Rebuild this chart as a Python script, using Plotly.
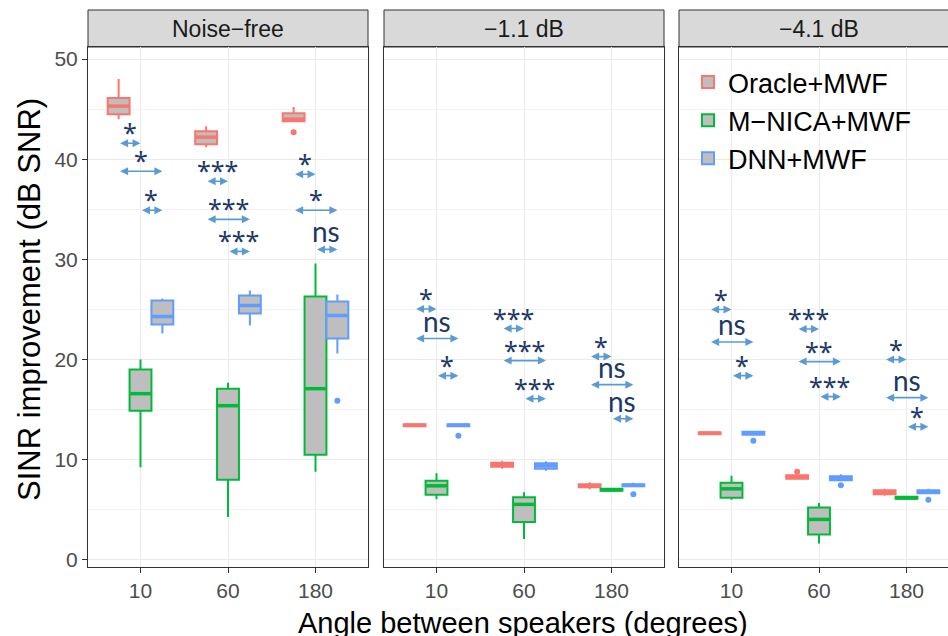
import plotly.graph_objects as go

# ---------------- data ----------------
conditions = ["Noise\u2212free", "\u22121.1 dB", "\u22124.1 dB"]
angles = ["10", "60", "180"]
methods = ["Oracle+MWF", "M\u2212NICA+MWF", "DNN+MWF"]
colors = ["#F8766D", "#00BA38", "#619CFF"]

# box statistics: [condition][angle]
oracle_lo  = [[44.0, 41.2, 43.8], [13.3, 9.1, 7.05], [12.5, 8.05, 6.4]]
oracle_q1  = [[44.5, 41.5, 43.8], [13.35, 9.3, 7.25], [12.55, 8.1, 6.55]]
oracle_med = [[45.3, 42.2, 44.0], [13.45, 9.5, 7.4], [12.65, 8.3, 6.75]]
oracle_q3  = [[46.1, 42.8, 44.6], [13.55, 9.7, 7.55], [12.75, 8.45, 6.95]]
oracle_hi  = [[48.0, 43.3, 45.2], [13.6, 9.9, 7.75], [12.8, 8.55, 7.1]]

mnica_lo  = [[9.25, 4.3, 8.8], [6.05, 2.1, 6.85], [6.0, 1.65, 6.05]]
mnica_q1  = [[14.9, 8.0, 10.5], [6.5, 3.8, 6.9], [6.2, 2.55, 6.1]]
mnica_med = [[16.6, 15.4, 17.1], [7.4, 5.55, 7.0], [7.1, 4.05, 6.2]]
mnica_q3  = [[19.0, 17.1, 26.3], [7.9, 6.25, 7.1], [7.7, 5.25, 6.3]]
mnica_hi  = [[20.0, 17.7, 29.6], [8.65, 6.75, 7.15], [8.4, 5.7, 6.35]]

dnn_lo  = [[22.6, 23.4, 20.6], [13.3, 8.9, 7.3], [12.5, 7.9, 6.6]]
dnn_q1  = [[23.5, 24.6, 22.1], [13.35, 9.1, 7.35], [12.5, 7.95, 6.65]]
dnn_med = [[24.3, 25.4, 24.4], [13.45, 9.4, 7.45], [12.65, 8.15, 6.8]]
dnn_q3  = [[25.9, 26.4, 25.8], [13.55, 9.65, 7.55], [12.8, 8.35, 6.95]]
dnn_hi  = [[26.1, 26.9, 26.5], [13.6, 9.85, 7.7], [12.85, 8.55, 7.1]]

# outliers
out_cond   = [0, 0, 1, 1, 2, 2, 2, 2]
out_method = [0, 2, 2, 2, 0, 2, 2, 2]
out_angle  = [2, 2, 0, 2, 1, 0, 1, 2]
out_value  = [42.7, 15.9, 12.4, 6.55, 8.8, 11.9, 7.45, 6.0]

# significance brackets: condition, angle, pair, label, y
sig_cond  = [0]*9 + [1]*9 + [2]*9
sig_angle = [0, 0, 0, 1, 1, 1, 2, 2, 2] * 3
sig_pair  = ["OG", "OD", "GD"] * 9
sig_label = ["*", "*", "*", "***", "***", "***", "*", "*", "ns",
             "*", "ns", "*", "***", "***", "***", "*", "ns", "ns",
             "*", "ns", "*", "***", "**", "***", "*", "ns", "*"]
sig_y = [41.6, 38.8, 34.9, 37.8, 34.0, 30.8, 38.5, 34.9, 31.0,
         25.05, 22.1, 18.4, 23.1, 19.9, 16.1, 20.3, 17.5, 14.1,
         25.0, 21.75, 18.4, 23.05, 19.8, 16.3, 20.0, 16.2, 13.3]

# ---------------- figure ----------------
stats = [
    (oracle_lo, oracle_q1, oracle_med, oracle_q3, oracle_hi),
    (mnica_lo, mnica_q1, mnica_med, mnica_q3, mnica_hi),
    (dnn_lo, dnn_q1, dnn_med, dnn_q3, dnn_hi),
]
dodge = [-0.25, 0.0, 0.25]
box_w = 0.25
pair_ends = {"OG": (0, 1), "OD": (0, 2), "GD": (1, 2)}

fig = go.Figure()
for c in range(3):
    ax = "x" if c == 0 else f"x{c+1}"
    ay = "y" if c == 0 else f"y{c+1}"
    for m in range(3):
        lo, q1, med, q3, hi = stats[m]
        pos = [a + 1 + dodge[m] for a in range(len(angles))]
        fig.add_trace(go.Box(
            x=pos,
            lowerfence=lo[c], q1=q1[c], median=med[c], q3=q3[c], upperfence=hi[c],
            width=box_w, whiskerwidth=0, fillcolor="#bebebe",
            line=dict(color=colors[m], width=2),
            name=methods[m], showlegend=(c == 0),
            boxpoints=False, hoverinfo="skip", xaxis=ax, yaxis=ay))
        # thicker median bar (ggplot style)
        mx, my = [], []
        for k, p in enumerate(pos):
            mx += [p - box_w / 2 + 0.01, p + box_w / 2 - 0.01, None]
            my += [med[c][k], med[c][k], None]
        fig.add_trace(go.Scatter(x=mx, y=my, mode="lines",
                                 line=dict(color=colors[m], width=3.5),
                                 showlegend=False, hoverinfo="skip", xaxis=ax, yaxis=ay))

for i in range(len(out_value)):
    c = out_cond[i]
    m = out_method[i]
    fig.add_trace(go.Scatter(
        x=[out_angle[i] + 1 + dodge[m]], y=[out_value[i]], mode="markers",
        marker=dict(color=colors[m], size=6), showlegend=False, hoverinfo="skip",
        xaxis="x" if c == 0 else f"x{c+1}", yaxis="y" if c == 0 else f"y{c+1}"))

annotations = []
for i in range(len(sig_label)):
    c = sig_cond[i]
    axn = "x" if c == 0 else f"x{c+1}"
    ayn = "y" if c == 0 else f"y{c+1}"
    a0, a1 = pair_ends[sig_pair[i]]
    x0 = sig_angle[i] + 1 + dodge[a0]
    x1 = sig_angle[i] + 1 + dodge[a1]
    annotations.append(dict(
        x=x1, y=sig_y[i], ax=x0, ay=sig_y[i], xref=axn, yref=ayn, axref=axn, ayref=ayn,
        text="", showarrow=True, arrowhead=2, arrowside="end+start", arrowsize=1,
        arrowwidth=1.6, arrowcolor="#5B9BD5", standoff=0, startstandoff=0))
    is_ns = sig_label[i] == "ns"
    if is_ns:
        fnt = dict(family="Lato", size=28, color="#203864")
        ys = -1
    else:
        fnt = dict(family="Noto Sans", size=25, color="#203864")
        ys = -8
    annotations.append(dict(
        x=(x0 + x1) / 2, y=sig_y[i], xref=axn, yref=ayn, text=sig_label[i],
        showarrow=False, xanchor="center", yanchor="bottom", yshift=ys, font=fnt))

# strips
L = 88
W = 948 - L
doms = [((88 - L) / W, (368 - L) / W), ((384 - L) / W, (664 - L) / W), ((679 - L) / W, 1.0)]
ytop = 520 / 557
shapes = []
for c in range(3):
    x0, x1 = doms[c]
    shapes.append(dict(type="rect", xref="paper", yref="paper", x0=x0, x1=x1 + (0.01 if c == 2 else 0),
                       y0=ytop, y1=1.0,
                       fillcolor="#d9d9d9", line=dict(color="#333333", width=1), layer="below"))
    xc = (x0 + (958 - L) / W) / 2 if c == 2 else (x0 + x1) / 2
    annotations.append(dict(x=xc, y=(ytop + 1) / 2, xref="paper", yref="paper",
                            text=conditions[c], showarrow=False, xanchor="center", yanchor="middle",
                            font=dict(family="Liberation Sans", size=23, color="#1a1a1a")))

annotations.append(dict(x=((88 + 958) / 2 - L) / W, y=-38 / 557, xref="paper", yref="paper",
                        text="Angle between speakers (degrees)", showarrow=False,
                        xanchor="center", yanchor="top",
                        font=dict(family="Liberation Sans", size=29, color="black")))
annotations.append(dict(x=(30 - L) / W, y=(567 - 300) / 557, xref="paper", yref="paper",
                        text="SINR improvement (dB SNR)", showarrow=False, textangle=-90,
                        xanchor="center", yanchor="middle",
                        font=dict(family="Liberation Sans", size=31, color="black")))

xranges = [[0.4, 3.6], [0.4, 3.6], [0.4, 0.4 + 269 / 87.5]]
layout = dict(
    width=948, height=636,
    margin=dict(l=L, r=0, t=10, b=69),
    paper_bgcolor="white", plot_bgcolor="white",
    boxmode="overlay",
    font=dict(family="Liberation Sans"),
    showlegend=True,
    legend=dict(x=(688 - L) / W, y=1 - (58 - 10) / 557, xanchor="left", yanchor="top",
                bgcolor="rgba(0,0,0,0)", font=dict(size=27, color="black"),
                tracegroupgap=0, itemwidth=30),
    annotations=annotations, shapes=shapes,
)
for c in range(3):
    xk = "xaxis" if c == 0 else f"xaxis{c+1}"
    yk = "yaxis" if c == 0 else f"yaxis{c+1}"
    layout[xk] = dict(
        domain=list(doms[c]), range=xranges[c], tickvals=[1, 2, 3], ticktext=angles,
        anchor="y" if c == 0 else f"y{c+1}",
        showgrid=True, gridcolor="#ebebeb", gridwidth=1.2, zeroline=False,
        showline=True, linecolor="#333333", linewidth=1, mirror=True,
        ticks="outside", ticklen=5, tickcolor="#333333", tickwidth=1,
        tickfont=dict(size=21, color="#4d4d4d"), fixedrange=True)
    layout[yk] = dict(
        domain=[0, ytop], range=[-0.7, 51.2], dtick=10, tick0=0,
        anchor="x" if c == 0 else f"x{c+1}",
        showgrid=True, gridcolor="#ebebeb", gridwidth=1.2, zeroline=False,
        minor=dict(dtick=5, showgrid=True, gridcolor="#f3f3f3", gridwidth=0.6),
        showline=True, linecolor="#333333", linewidth=1, mirror=(c < 2),
        ticks="outside" if c == 0 else "", ticklen=5, tickcolor="#333333",
        showticklabels=(c == 0),
        tickfont=dict(size=21, color="#4d4d4d"), fixedrange=True)
    if c > 0:
        layout[yk]["matches"] = "y"

fig.update_layout(**layout)
fig.write_html("out.html", config={"displayModeBar": False},
               post_script="document.body.style.margin='0';")
